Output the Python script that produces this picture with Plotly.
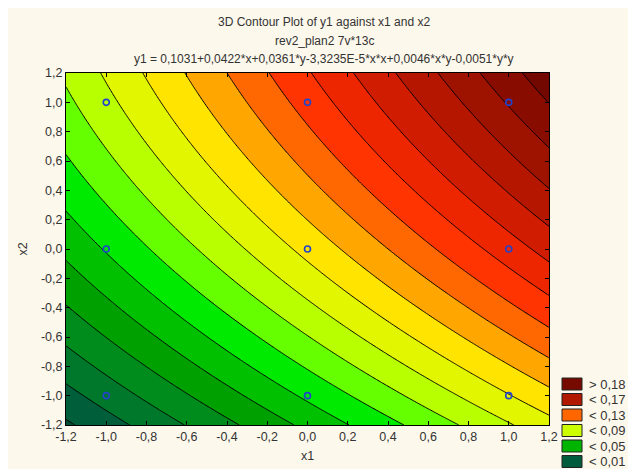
import numpy as np
import plotly.graph_objects as go

# ---- Data ----
# fitted model shown in the title: y1 = b0 + b1*x + b2*y + b11*x*x + b12*x*y + b22*y*y
coef_names = ["const", "x", "y", "x*x", "x*y", "y*y"]
coef_values = [0.1031, 0.0422, 0.0361, -3.3235e-5, 0.0046, -0.0051]

# design points (blue circles)
design_x1 = [-1, -1, -1, 0, 0, 0, 1, 1, 1]
design_x2 = [-1, 0, 1, -1, 0, 1, -1, 0, 1]

# contour levels
level_start = 0.01
level_end = 0.19
level_step = 0.01

# fill colour of each band, lowest band first (20 bands)
band_colors = [
    "#004f34", "#005f3a", "#00782c", "#008c1c", "#00a000",
    "#00c000", "#00ea00", "#66ff00", "#b8ff00", "#e2f600",
    "#ffe400", "#ffa600", "#ff6800", "#ff3400", "#ee2600",
    "#d01c00", "#b41600", "#9e1200", "#880c00", "#720800",
]

legend_labels = ["> 0,18", "< 0,17", "< 0,13", "< 0,09", "< 0,05", "< 0,01"]
legend_colors = ["#760a00", "#b01800", "#ff6600", "#ccff00", "#00b400", "#005a3c"]

tick_vals = [-1.2, -1.0, -0.8, -0.6, -0.4, -0.2, 0.0, 0.2, 0.4, 0.6, 0.8, 1.0, 1.2]
tick_text = ["-1,2", "-1,0", "-0,8", "-0,6", "-0,4", "-0,2", "0,0",
             "0,2", "0,4", "0,6", "0,8", "1,0", "1,2"]

title_lines = [
    "3D Contour Plot of y1 against x1 and x2",
    "rev2_plan2 7v*13c",
    "y1 = 0,1031+0,0422*x+0,0361*y-3,3235E-5*x*x+0,0046*x*y-0,0051*y*y",
]

# ---- Surface from the fitted model ----
g = np.linspace(-1.2, 1.2, 241)
X, Y = np.meshgrid(g, g)
b0, b1, b2, b11, b12, b22 = coef_values
Z = b0 + b1 * X + b2 * Y + b11 * X * X + b12 * X * Y + b22 * Y * Y

n = len(band_colors)
colorscale = []
for k, c in enumerate(band_colors):
    lo = max(0.0, (k - 0.5) / (n - 1))
    hi = min(1.0, (k + 0.5) / (n - 1))
    colorscale.append([lo, c])
    colorscale.append([hi, c])

FONT = "Liberation Sans, Arial, sans-serif"
BG = "#fdf8ec"

fig = go.Figure()
fig.add_trace(go.Contour(
    x=g, y=g, z=Z,
    autocontour=False,
    contours=dict(start=level_start, end=level_end, size=level_step,
                  coloring="fill", showlines=True),
    line=dict(color="black", width=1),
    colorscale=colorscale,
    showscale=False,
    hoverinfo="skip",
))
fig.add_trace(go.Scatter(
    x=design_x1, y=design_x2, mode="markers",
    marker=dict(symbol="circle-open", size=6, color="#2244cc",
                line=dict(width=1.6, color="#2244cc")),
    showlegend=False, hoverinfo="skip",
))

# geometry (figure pixels; the page adds an 8px body margin)
L, R, T, B = 58, 541, 65, 417
W, H = R - L, B - T
px = lambda v: (v - L) / W
py = lambda v: (B - v) / H

shapes = []
annotations = []
for i, (lab, col) in enumerate(zip(legend_labels, legend_colors)):
    top = 370 + i * 15.5
    shapes.append(dict(type="rect", xref="paper", yref="paper",
                       x0=px(554), x1=px(574), y0=py(top + 12), y1=py(top),
                       fillcolor=col, line=dict(color="#222", width=1)))
    annotations.append(dict(text=lab, xref="paper", yref="paper", x=px(579), y=py(top + 6),
                            xanchor="left", yanchor="middle", showarrow=False,
                            font=dict(family=FONT, size=13, color="#333")))

for i, line in enumerate(title_lines):
    annotations.append(dict(text=line, xref="paper", yref="paper", x=px(316), y=py(14 + i * 18.5),
                            xanchor="center", yanchor="middle", showarrow=False,
                            font=dict(family=FONT, size=12, color="#333")))

axis_common = dict(
    range=[-1.2, 1.2], tickvals=tick_vals, ticktext=tick_text,
    ticks="inside", ticklen=4, tickcolor="black", tickwidth=1,
    showline=True, linecolor="black", linewidth=1, mirror="ticks",
    showgrid=False, zeroline=False, automargin=False,
    tickfont=dict(family=FONT, size=12.5, color="#333"),
)

fig.update_layout(
    width=636, height=469,
    margin=dict(l=L, r=636 - R, t=T, b=469 - B),
    paper_bgcolor=BG, plot_bgcolor=BG,
    showlegend=False,
    shapes=shapes, annotations=annotations,
    xaxis=dict(**axis_common, title=dict(text="x1", standoff=8,
                                         font=dict(family=FONT, size=12.5, color="#333"))),
    yaxis=dict(**axis_common, title=dict(text="x2", standoff=10,
                                         font=dict(family=FONT, size=12.5, color="#333"))),
)

fig.write_html("out.html")
